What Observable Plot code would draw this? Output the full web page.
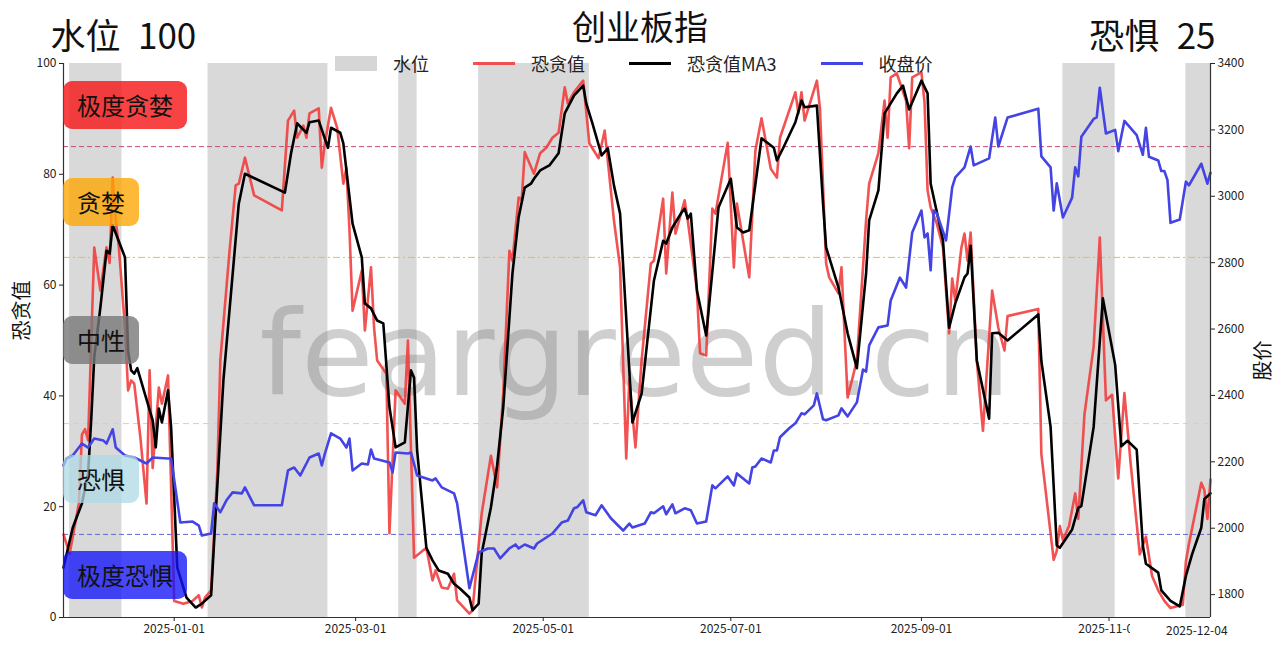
<!DOCTYPE html>
<html><head><meta charset="utf-8">
<script src="https://cdn.jsdelivr.net/npm/d3@7"></script>
<script src="https://cdn.jsdelivr.net/npm/@observablehq/plot@0.6"></script>
<style>
body{margin:0;background:#fff;font-family:"Noto Sans CJK SC",sans-serif;}
#wrap{position:relative;width:1280px;height:645px;overflow:hidden;background:#fff;}
.zone{position:absolute;left:63px;height:48px;line-height:48px;padding:0 14px;border-radius:9px;font-size:24px;color:#111;transform:translateY(-50%);white-space:nowrap;}
#legend{position:absolute;left:335px;top:54px;display:flex;align-items:center;font-size:18px;color:#222;height:18px;}
.item{display:flex;align-items:center;margin-right:44px;}
.sw{width:42px;margin-right:16px;}
.sw.box{height:15px;background:#d6d6d6;}
.sw.ln{height:3px;}
#lastTick{position:absolute;top:623px;background:#fff;padding-left:36px;font-size:12px;color:#222;line-height:14px;white-space:nowrap;}
</style></head>
<body><div id="wrap"></div>
<script>
// ---- data ----
const xStart = "2024-11-26", xEnd = "2025-12-04";
const bandStarts = ["2024-11-28","2025-01-12","2025-03-15","2025-04-10","2025-10-17","2025-11-26"];
const bandEnds   = ["2024-12-15","2025-02-20","2025-03-21","2025-05-16","2025-11-03","2025-12-04"];

const redDates = ["2024-11-26","2024-11-28","2024-12-01","2024-12-02","2024-12-03","2024-12-04","2024-12-06","2024-12-08","2024-12-10","2024-12-11","2024-12-12","2024-12-13","2024-12-14","2024-12-16","2024-12-17","2024-12-18","2024-12-19","2024-12-21","2024-12-23","2024-12-24","2024-12-25","2024-12-27","2024-12-28","2024-12-30",
"2025-01-01","2025-01-04","2025-01-07","2025-01-09","2025-01-10","2025-01-11","2025-01-13","2025-01-15","2025-01-16","2025-01-19","2025-01-21","2025-01-22","2025-01-24","2025-01-27","2025-02-05","2025-02-07","2025-02-09","2025-02-10","2025-02-12","2025-02-13","2025-02-14","2025-02-17","2025-02-18","2025-02-19","2025-02-21","2025-02-23","2025-02-25","2025-02-26","2025-02-27","2025-02-28",
"2025-03-03","2025-03-04","2025-03-06","2025-03-07","2025-03-08","2025-03-11","2025-03-12","2025-03-14","2025-03-17","2025-03-18","2025-03-20","2025-03-24","2025-03-26","2025-03-27","2025-03-29","2025-03-31","2025-04-02","2025-04-03","2025-04-07","2025-04-08","2025-04-11","2025-04-14","2025-04-16","2025-04-18","2025-04-20","2025-04-21","2025-04-23","2025-04-24","2025-04-25","2025-04-28","2025-04-30",
"2025-05-02","2025-05-04","2025-05-06","2025-05-08","2025-05-09","2025-05-11","2025-05-14","2025-05-16","2025-05-19","2025-05-21","2025-05-24","2025-05-26","2025-05-28","2025-05-29","2025-05-31","2025-06-02","2025-06-05","2025-06-06","2025-06-09","2025-06-10","2025-06-12","2025-06-13","2025-06-16","2025-06-17","2025-06-20","2025-06-21","2025-06-23","2025-06-25","2025-06-26","2025-06-30",
"2025-07-02","2025-07-03","2025-07-07","2025-07-09","2025-07-11","2025-07-14","2025-07-16","2025-07-17","2025-07-22","2025-07-23","2025-07-24","2025-07-25","2025-07-29","2025-07-30","2025-08-01","2025-08-02","2025-08-05","2025-08-06","2025-08-07","2025-08-08","2025-08-11","2025-08-14","2025-08-15","2025-08-18","2025-08-20","2025-08-21","2025-08-22","2025-08-24","2025-08-27","2025-08-28","2025-08-29",
"2025-09-01","2025-09-02","2025-09-03","2025-09-04","2025-09-06","2025-09-08","2025-09-10","2025-09-11","2025-09-12","2025-09-14","2025-09-15","2025-09-16","2025-09-17","2025-09-19","2025-09-21","2025-09-24","2025-09-26","2025-09-28","2025-09-29","2025-10-09","2025-10-10","2025-10-14","2025-10-15","2025-10-16","2025-10-17","2025-10-19","2025-10-21","2025-10-22","2025-10-24","2025-10-27","2025-10-29","2025-10-31",
"2025-11-02","2025-11-04","2025-11-06","2025-11-08","2025-11-11","2025-11-13","2025-11-15","2025-11-17","2025-11-19","2025-11-21","2025-11-25","2025-11-26","2025-11-27","2025-12-01","2025-12-02","2025-12-03","2025-12-04"];
const redValues = [15,11.5,20.6,33,34,32,66.8,59,66.8,64,79.4,71.7,66.8,52.3,41,42.8,42.2,32.5,20.6,44.6,27,41.5,38.6,43.7,
3,2.5,3,4,1.8,3.6,4.9,26,46.4,66.2,78,78.3,83,76.2,73.5,89.7,91.5,86.6,88.8,86.6,91,91.9,81.2,85.6,92,88.4,78.3,81.2,69.9,55.4,
62.6,51.8,63.2,52.3,46.4,44,15.2,41,38.6,50,10.8,12.6,6.7,8.5,5.4,5.2,7.9,3.1,0.7,1.3,18.8,29.2,23.5,40.4,66.2,64.4,75.8,75.3,84,80.1,83.8,
84.8,86.6,87.5,95.7,92.8,94.8,96.9,85.6,82.9,87.9,71.7,63.2,28.7,43,30.7,46.4,63.9,64.4,75.6,62.1,76.7,69.3,75.3,71.7,59,47.7,47.3,73.8,72.9,85.7,
63.2,74.7,61.4,84.3,90.1,81,79.4,86.6,94.8,91,94.8,89.7,96.9,91.9,63.9,61.4,58.5,63.2,51.3,39.7,46.4,71.7,78.3,83.8,93.3,86.6,97.5,98.2,93.3,84.7,97.5,
98.4,93,77.1,74,71.1,66.8,51.3,61.2,57.2,66.8,69.3,64.4,69.5,46.4,33.7,59,52.3,48.2,54.4,55.7,29.5,10.4,12,16.5,14,16.5,22.4,17.8,36.6,48.9,68.6,39.2,
40.2,25.1,40.5,28,11.4,14.6,7.5,4.9,3,1.7,2.3,10.1,13.3,24.3,23,17.8,24.9];

const maDates = ["2024-11-26","2024-11-29","2024-12-02","2024-12-04","2024-12-05","2024-12-06","2024-12-08","2024-12-10","2024-12-11","2024-12-12","2024-12-16","2024-12-17","2024-12-18","2024-12-19","2024-12-20","2024-12-25","2024-12-26","2024-12-27","2024-12-28","2024-12-30","2024-12-31",
"2025-01-02","2025-01-05","2025-01-08","2025-01-10","2025-01-13","2025-01-14","2025-01-17","2025-01-22","2025-01-24","2025-02-06","2025-02-08","2025-02-10","2025-02-13","2025-02-14","2025-02-17","2025-02-20","2025-02-21","2025-02-24","2025-02-25","2025-02-28",
"2025-03-03","2025-03-04","2025-03-06","2025-03-08","2025-03-10","2025-03-12","2025-03-14","2025-03-17","2025-03-19","2025-03-20","2025-03-21","2025-03-24","2025-03-26","2025-03-28","2025-03-31","2025-04-02","2025-04-04","2025-04-07","2025-04-08","2025-04-10","2025-04-11","2025-04-14","2025-04-16","2025-04-18","2025-04-21","2025-04-23","2025-04-25","2025-04-27","2025-04-28","2025-04-30",
"2025-05-03","2025-05-06","2025-05-08","2025-05-11","2025-05-14","2025-05-15","2025-05-17","2025-05-20","2025-05-22","2025-05-24","2025-05-26","2025-05-30","2025-06-02","2025-06-06","2025-06-09","2025-06-10","2025-06-12","2025-06-15","2025-06-16","2025-06-17","2025-06-18","2025-06-20","2025-06-23","2025-06-27",
"2025-07-01","2025-07-03","2025-07-05","2025-07-07","2025-07-11","2025-07-15","2025-07-16","2025-07-18","2025-07-22","2025-07-24","2025-07-25","2025-07-29","2025-07-31","2025-08-01","2025-08-05","2025-08-08","2025-08-11","2025-08-14","2025-08-15","2025-08-18","2025-08-20","2025-08-22","2025-08-24","2025-08-26","2025-08-28",
"2025-09-01","2025-09-03","2025-09-04","2025-09-08","2025-09-10","2025-09-12","2025-09-15","2025-09-16","2025-09-17","2025-09-19","2025-09-23","2025-09-24","2025-09-26","2025-09-29","2025-10-09","2025-10-10","2025-10-13","2025-10-15","2025-10-16","2025-10-20","2025-10-22","2025-10-23","2025-10-27","2025-10-30",
"2025-11-03","2025-11-05","2025-11-07","2025-11-10","2025-11-12","2025-11-13","2025-11-17","2025-11-18","2025-11-21","2025-11-24","2025-11-26","2025-11-28","2025-12-01","2025-12-02","2025-12-04"];
const maValues = [9,16.2,20.6,26,35.6,47,56,66.2,65.7,70.8,65,48.2,44.6,44,45,35.6,30.7,37.7,35.2,41,34.3,
9,3.6,1.8,2.5,4,13.9,42.8,74.7,80.1,76.7,83.8,89.2,87.5,89.4,89.7,84.8,88.4,87.5,85.6,71.1,
65,56.7,55.8,53.6,53.1,38,30.7,31.6,44.6,43.3,30.1,12.6,10.3,8.5,7.9,6.1,5.2,3.6,1.3,2.5,11.6,19.9,27.4,37.9,62.1,72.2,77.6,78.3,79.2,80.7,
81.6,83.8,91,94.2,96,92.8,89.2,83.4,84.7,78,72.9,35.2,40.4,60.8,68,67.5,70.4,73.1,73.8,72,72.9,59,50.9,74,
79.2,70.4,69.5,69.9,86.5,84.8,82.5,84.7,89.4,93.3,92.1,92.4,74.7,66.8,59.6,51.3,45,62.1,71.7,77.1,91,92.8,94.6,96,91.7,
96.9,94.6,78.3,68.1,52.3,56.7,61.4,62.1,67.1,46.4,35.9,51.3,51.4,50,54.7,46.3,34.4,13,12.6,15.9,19.8,20.1,34.4,57.6,
45.6,30.9,31.9,30.3,13,9.7,8.1,4.9,3,2,7.5,11.4,16.2,21.4,22.4];

const closeDates = ["2024-11-26","2024-11-27","2024-11-29","2024-12-02","2024-12-04","2024-12-06","2024-12-09","2024-12-10","2024-12-12","2024-12-13","2024-12-16","2024-12-19","2024-12-23","2024-12-25","2024-12-30","2024-12-31",
"2025-01-03","2025-01-07","2025-01-09","2025-01-10","2025-01-13","2025-01-14","2025-01-16","2025-01-18","2025-01-20","2025-01-23","2025-01-24","2025-01-27","2025-02-05","2025-02-07","2025-02-09","2025-02-11","2025-02-13","2025-02-14","2025-02-17","2025-02-18","2025-02-19","2025-02-21","2025-02-24","2025-02-26","2025-02-27","2025-02-28",
"2025-03-03","2025-03-05","2025-03-06","2025-03-07","2025-03-12","2025-03-13","2025-03-14","2025-03-18","2025-03-19","2025-03-21","2025-03-23","2025-03-26","2025-03-27","2025-03-29","2025-04-02","2025-04-03","2025-04-07","2025-04-10","2025-04-13","2025-04-15","2025-04-17","2025-04-20","2025-04-22","2025-04-23","2025-04-25","2025-04-28","2025-04-29",
"2025-05-04","2025-05-07","2025-05-09","2025-05-11","2025-05-12","2025-05-14","2025-05-15","2025-05-18","2025-05-20","2025-05-23","2025-05-27","2025-05-29","2025-05-30","2025-06-03","2025-06-05","2025-06-06","2025-06-09","2025-06-10","2025-06-12","2025-06-13","2025-06-16","2025-06-18","2025-06-20","2025-06-23","2025-06-25","2025-06-26","2025-06-30",
"2025-07-02","2025-07-03","2025-07-07","2025-07-08","2025-07-09","2025-07-11","2025-07-14","2025-07-15","2025-07-16","2025-07-17","2025-07-20","2025-07-22","2025-07-24","2025-07-25","2025-07-28","2025-07-29","2025-07-31","2025-08-01","2025-08-05","2025-08-06","2025-08-08","2025-08-11","2025-08-13","2025-08-14","2025-08-15","2025-08-18","2025-08-21","2025-08-22","2025-08-25","2025-08-27","2025-08-29",
"2025-09-01","2025-09-02","2025-09-03","2025-09-04","2025-09-05","2025-09-06","2025-09-09","2025-09-11","2025-09-12","2025-09-15","2025-09-17","2025-09-18","2025-09-23","2025-09-25","2025-09-26","2025-09-29","2025-10-09","2025-10-10","2025-10-13","2025-10-14","2025-10-15","2025-10-17","2025-10-20","2025-10-21","2025-10-22","2025-10-23","2025-10-27","2025-10-28","2025-10-29","2025-10-31",
"2025-11-03","2025-11-04","2025-11-06","2025-11-10","2025-11-12","2025-11-13","2025-11-14","2025-11-17","2025-11-18","2025-11-19","2025-11-20","2025-11-21","2025-11-24","2025-11-26","2025-11-27","2025-12-01","2025-12-03","2025-12-04"];
const closeValues = [2189,2210,2219,2255,2243,2270,2264,2255,2298,2243,2219,2213,2195,2213,2210,2210,
2017,2020,2008,1978,1984,2075,2048,2084,2108,2105,2123,2069,2069,2174,2183,2159,2195,2213,2225,2189,2225,2286,2270,2243,2270,2174,
2195,2192,2237,2210,2198,2168,2228,2225,2228,2159,2153,2144,2150,2123,2105,2075,1819,1927,1939,1939,1909,1939,1951,1939,1951,1939,1954,
1984,2017,2023,2060,2063,2084,2048,2039,2069,2030,1993,2014,2002,2014,2048,2045,2066,2042,2072,2045,2060,2054,2014,2020,2129,2120,2156,
2129,2165,2135,2183,2186,2210,2198,2234,2234,2274,2301,2316,2346,2343,2370,2406,2328,2325,2340,2361,2337,2379,2478,2472,2551,2605,2611,2686,2755,2725,2891,
2957,2876,2888,2777,2957,2948,2867,3027,3057,3087,3150,3093,3114,3237,3150,3237,3264,3120,3087,2957,3039,2936,2996,3087,3060,3179,3233,3238,3327,3189,
3200,3136,3227,3184,3125,3206,3119,3108,3076,3076,3049,2920,2930,3044,3033,3098,3038,3071];

const zoneNames = ["极度贪婪","贪婪","中性","恐惧","极度恐惧"];
const zoneMids = [92.5, 75, 50, 25, 7.5];
const zoneLines = [85, 65, 35, 15];
const leftTicks = [0, 20, 40, 60, 80, 100];
const rightTicks = [1800, 2000, 2200, 2400, 2600, 2800, 3000, 3200, 3400];
const priceDomain = [1731, 3400];
const xTicks = ["2025-01-01","2025-03-01","2025-05-01","2025-07-01","2025-09-01","2025-11-01"];
const legendNames = ["水位","恐贪值","恐贪值MA3","收盘价"];
const titleText = "创业板指";
const waterLevel = ["水位", 100];
const mood = ["恐惧", 25];
const watermark = "feargreed.cn";

// ---- build ----
const parse = d3.utcParse("%Y-%m-%d");
const bands = bandStarts.map((s, i) => ({start: parse(s), end: parse(bandEnds[i])}));
const red = redDates.map((d, i) => ({date: parse(d), value: redValues[i]}));
const ma = maDates.map((d, i) => ({date: parse(d), value: maValues[i]}));
const close = closeDates.map((d, i) => ({date: parse(d), price: closeValues[i]}));
const [pLo, pHi] = priceDomain;
const toLeft = p => (p - pLo) / (pHi - pLo) * 100;
const fromLeft = v => pLo + v / 100 * (pHi - pLo);
const cjk = '"Noto Sans CJK SC", "Noto Sans", sans-serif';
const gap = "\u2002";

const chart = Plot.plot({
  width: 1280, height: 645,
  marginLeft: 63, marginRight: 70, marginTop: 63, marginBottom: 28,
  x: {type: "utc", domain: [parse(xStart), parse(xEnd)]},
  y: {domain: [0, 100]},
  style: {fontFamily: cjk, fontSize: "12px", background: "white", color: "#222", overflow: "visible"},
  marks: [
    Plot.rect(bands, {x1: "start", x2: "end", fill: "#d9d9d9"}),
    Plot.text([watermark], {frameAnchor: "middle", text: d => d, fontSize: 118, fontFamily: "DejaVu Sans", fill: "#808080", fillOpacity: 0.38, dy: 17, dx: -2}),
    Plot.ruleY([zoneLines[0]], {stroke: "#cc4a78", strokeWidth: 1, strokeDasharray: "5,3"}),
    Plot.ruleY([zoneLines[1]], {stroke: "#f8b446", strokeWidth: 1, strokeDasharray: "7,3,2,3"}),
    Plot.ruleY([zoneLines[2]], {stroke: "#cfcfcf", strokeWidth: 1, strokeDasharray: "6,4"}),
    Plot.ruleY([zoneLines[3]], {stroke: "#6464dc", strokeWidth: 1, strokeDasharray: "5,3"}),
    Plot.line(red, {x: "date", y: "value", stroke: "#f03a3a", strokeWidth: 2.6, strokeOpacity: 0.88, strokeLinejoin: "round"}),
    Plot.line(ma, {x: "date", y: "value", stroke: "#000", strokeWidth: 2.6, strokeLinejoin: "round"}),
    Plot.line(close, {x: "date", y: d => toLeft(d.price), stroke: "#4444e4", strokeWidth: 2.6, strokeLinejoin: "round"}),
    Plot.ruleY([0], {stroke: "#333", strokeWidth: 1.2}),
    Plot.ruleX([parse(xStart), parse(xEnd)], {stroke: "#333", strokeWidth: 1.2}),
    Plot.axisY(leftTicks, {anchor: "left", tickSize: 4, tickPadding: 3, label: null, fontSize: 12}),
    Plot.axisY(rightTicks.map(toLeft), {anchor: "right", tickSize: 4, tickPadding: 3, label: null, fontSize: 12, tickFormat: d => String(Math.round(fromLeft(d)))}),
    Plot.axisX(xTicks.map(parse), {tickSize: 4, tickPadding: 3, label: null, fontSize: 12, tickFormat: d3.utcFormat("%Y-%m-%d")}),
    Plot.text([titleText], {frameAnchor: "top", text: d => d, fontSize: 34, dy: -34, dx: 3, lineAnchor: "middle", fill: "#111"}),
    Plot.text([waterLevel], {frameAnchor: "top-left", text: d => d[0] + gap + d[1], fontSize: 35, dx: -13, dy: -26, textAnchor: "start", lineAnchor: "middle", fill: "#111"}),
    Plot.text([mood], {frameAnchor: "top-right", text: d => d[0] + gap + d[1], fontSize: 35, dx: 5, dy: -26, textAnchor: "end", lineAnchor: "middle", fill: "#111"}),
    Plot.text(["恐贪值"], {frameAnchor: "left", text: d => d, fontSize: 20, rotate: -90, dx: -41, lineAnchor: "middle", fill: "#111"}),
    Plot.text(["股价"], {frameAnchor: "right", text: d => d, fontSize: 20, rotate: -90, dx: 53, lineAnchor: "middle", fill: "#111"})
  ]
});

const wrap = document.getElementById("wrap");
wrap.appendChild(chart);
const ys = chart.scale("y"), xs = chart.scale("x");

// zone label boxes
const zoneBg = ["rgba(245,20,20,0.8)", "rgba(255,165,0,0.78)", "rgba(120,120,120,0.8)", "rgba(173,216,230,0.75)", "rgba(20,20,250,0.78)"];
zoneNames.forEach((name, i) => {
  const el = document.createElement("div");
  el.className = "zone";
  el.textContent = name;
  el.style.top = ys.apply(zoneMids[i]) + "px";
  el.style.background = zoneBg[i];
  wrap.appendChild(el);
});

// legend
const legend = document.createElement("div");
legend.id = "legend";
const swatches = [["box", "#d6d6d6"], ["ln", "rgba(240,58,58,0.88)"], ["ln", "#000"], ["ln", "#4444e4"]];
legendNames.forEach((name, i) => {
  const it = document.createElement("div"); it.className = "item";
  const sw = document.createElement("div"); sw.className = "sw " + swatches[i][0]; sw.style.background = swatches[i][1];
  const tx = document.createElement("span"); tx.textContent = name;
  it.appendChild(sw); it.appendChild(tx); legend.appendChild(it);
});
wrap.appendChild(legend);

// last date label with white box
const last = document.createElement("div");
last.id = "lastTick";
last.textContent = xEnd;
wrap.appendChild(last);
last.style.left = (xs.apply(parse(xEnd)) + 18 - last.offsetWidth) + "px";
</script>
</body></html>
